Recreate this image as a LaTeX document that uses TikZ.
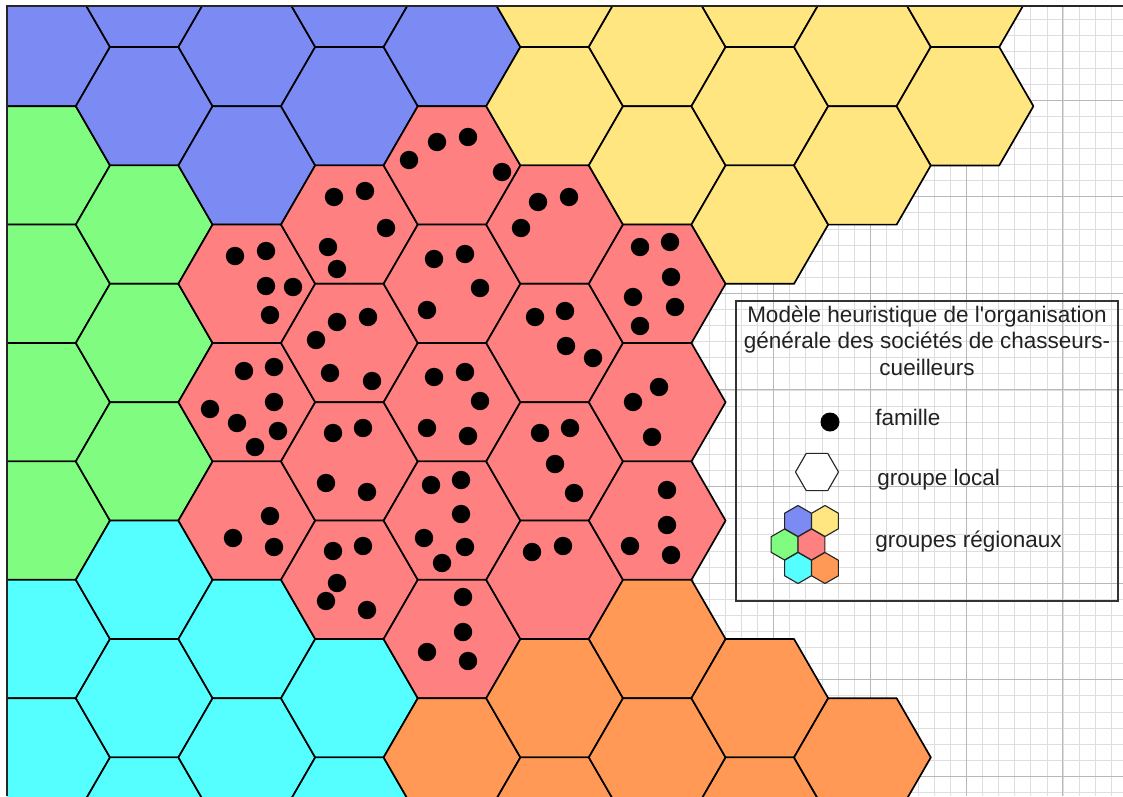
\documentclass[tikz,border=0pt]{standalone}
\usepackage{fontspec}
\setmainfont{Liberation Sans}
\usetikzlibrary{calc}

\definecolor{regblue}{RGB}{124,138,244}
\definecolor{reggreen}{RGB}{128,252,128}
\definecolor{regcyan}{RGB}{85,255,255}
\definecolor{regred}{RGB}{255,128,128}
\definecolor{regyellow}{RGB}{255,230,128}
\definecolor{regorange}{RGB}{255,153,85}
\definecolor{inkgrey}{RGB}{34,34,34}

\begin{document}
\begin{tikzpicture}[
    x=0.025cm, y=-0.025cm,
    cell/.style={draw=black, line width=1.2pt, line join=round},
    minicell/.style={draw=black!85, line width=0.8pt, line join=round},
    famille/.style={fill=black},
    minorline/.style={draw=black!13, line width=0.4pt},
    majorline/.style={draw=black!28, line width=0.6pt},
    legendtext/.style={font=\fontsize{16}{19}\selectfont, text=inkgrey, inner sep=0pt}
]
\useasboundingbox (0,0) rectangle (1123,796);

\begin{scope}
\clip (7,6) rectangle (1123,796);

% Graph paper
\fill[white] (7,6) rectangle (1123,796);
\foreach \n in {-54,...,16}
    \draw[minorline] ({870+16.07*\n},6) -- ({870+16.07*\n},796);
\foreach \n in {-6,...,43}
    \draw[minorline] (7,{100+16.1*\n}) -- (1123,{100+16.1*\n});
\foreach \n in {-9,...,3}
    \draw[majorline] ({870+96.4*\n},6) -- ({870+96.4*\n},796);
\foreach \n in {-1,...,7}
    \draw[majorline] (7,{100+96.6*\n}) -- (1123,{100+96.6*\n});

% Local groups, coloured by regional group
\foreach \i/\r/\c in {
    0/0/regblue, 0/2/reggreen, 0/4/reggreen, 0/6/reggreen, 0/8/reggreen, 0/10/regcyan, 0/12/regcyan,
    1/-1/regblue, 1/1/regblue, 1/3/reggreen, 1/5/reggreen, 1/7/reggreen, 1/9/regcyan, 1/11/regcyan, 1/13/regcyan,
    2/0/regblue, 2/2/regblue, 2/4/regred, 2/6/regred, 2/8/regred, 2/10/regcyan, 2/12/regcyan,
    3/-1/regblue, 3/1/regblue, 3/3/regred, 3/5/regred, 3/7/regred, 3/9/regred, 3/11/regcyan, 3/13/regcyan,
    4/0/regblue, 4/2/regred, 4/4/regred, 4/6/regred, 4/8/regred, 4/10/regred, 4/12/regorange,
    5/-1/regyellow, 5/1/regyellow, 5/3/regred, 5/5/regred, 5/7/regred, 5/9/regred, 5/11/regorange, 5/13/regorange,
    6/0/regyellow, 6/2/regyellow, 6/4/regred, 6/6/regred, 6/8/regred, 6/10/regorange, 6/12/regorange,
    7/-1/regyellow, 7/1/regyellow, 7/3/regyellow, 7/11/regorange, 7/13/regorange,
    8/0/regyellow, 8/2/regyellow, 8/12/regorange,
    9/-1/regyellow, 9/1/regyellow}
{
    \pgfmathsetmacro{\hx}{41.6+102.6*\i}
    \pgfmathsetmacro{\hy}{47+59.2*\r}
    \filldraw[cell, fill=\c] (\hx,\hy) +(0:68.4) -- +(60:68.4) -- +(120:68.4)
        -- +(180:68.4) -- +(240:68.4) -- +(300:68.4) -- cycle;
}

% Families
\foreach \p in {
    (437,142), (468,137), (409,160), (502,172),
    (334,197), (365,191), (386,228), (328,247), (337,269),
    (538,202), (569,197), (521,228),
    (235,256), (266,251), (266,286), (293,287), (270,315),
    (434,259), (465,254), (480,288), (427,310),
    (640,247), (670,242), (671,277), (633,297), (675,307), (640,326),
    (337,322), (368,317), (316,340), (330,373), (372,381),
    (535,317), (565,311), (566,346), (593,358),
    (244,371), (274,367), (274,402), (210,409), (237,423), (278,431), (255,447),
    (434,377), (465,372), (480,401), (427,428), (468,436),
    (659,387), (633,402), (652,437),
    (333,433), (363,428), (326,483), (367,492),
    (540,433), (570,428), (555,464), (574,493),
    (270,516), (233,538), (274,547),
    (431,485), (461,480), (461,514), (424,538), (465,547), (442,563),
    (667,490), (667,525), (630,546), (671,555),
    (333,551), (363,546), (337,583), (326,601), (367,610),
    (532,552), (563,546),
    (463,597), (463,632), (427,652), (468,661)}
    \fill[famille] \p circle (9.2);
\end{scope}

% Frame
\draw[black!85, line width=1.4pt] (7,796) -- (7,6) -- (1123,6);

% Legend
\draw[black!80, line width=1pt] (736,301) rectangle (1118,601);
\node[legendtext, anchor=base] (title1) at (927,322) {Modèle heuristique de l\textquotesingle organisation};
\node[legendtext, anchor=base] (title2) at (927,348.5) {générale des sociétés de chasseurs-};
\node[legendtext, anchor=base] (title3) at (927,375) {cueilleurs};

\fill[famille] (830,422) circle (9.5);
\node[legendtext, anchor=base west] (fam) at (875,425) {famille};

\filldraw[minicell, fill=white] (817,472) +(0:21.5) -- +(60:21.5) -- +(120:21.5)
    -- +(180:21.5) -- +(240:21.5) -- +(300:21.5) -- cycle;
\node[legendtext, anchor=base west] (loc) at (877,485) {groupe local};

\foreach \mx/\my/\c in {798/521/regblue, 825/521/regyellow, 784.5/544.5/reggreen,
    811.5/544.5/regred, 798/568/regcyan, 825/568/regorange}
    \filldraw[minicell, fill=\c] (\mx,\my) +(30:15.5) -- +(90:15.5) -- +(150:15.5)
        -- +(210:15.5) -- +(270:15.5) -- +(330:15.5) -- cycle;
\node[legendtext, anchor=base west] (reg) at (875,547) {groupes régionaux};

\end{tikzpicture}
\end{document}
